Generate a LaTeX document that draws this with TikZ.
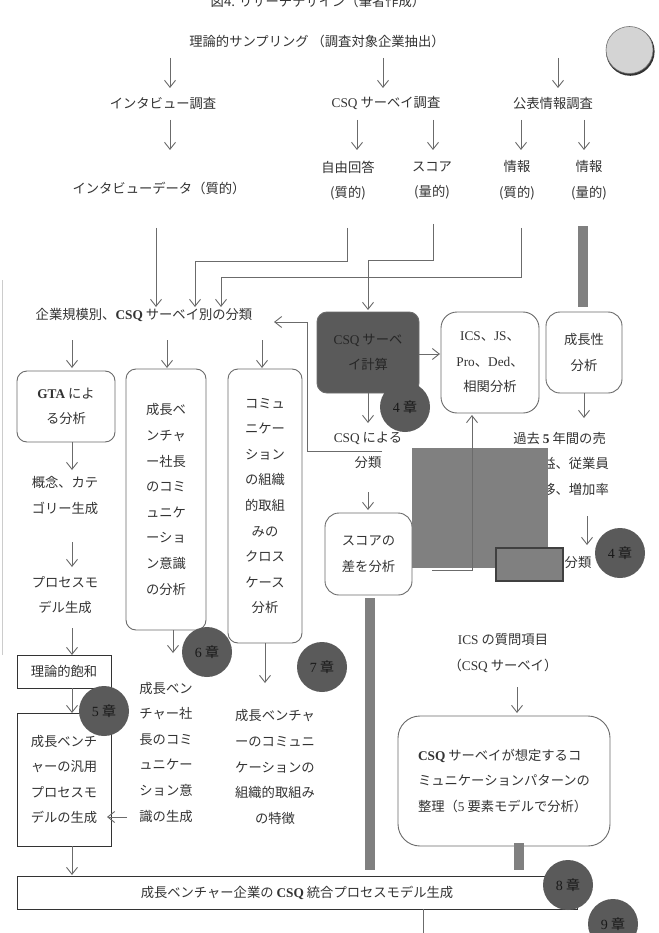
\documentclass[tikz,border=0pt]{standalone}
\usepackage{fontspec}
\setmainfont{Noto Sans CJK JP}
\newfontfamily\enfam{Liberation Serif}
\newcommand\enr[1]{{\enfam #1}}
\newcommand\enbf[1]{{\enfam\bfseries #1}}
\usetikzlibrary{arrows.meta,calc}
\definecolor{tc}{HTML}{333333}
\definecolor{lc}{HTML}{6B6B6B}
\definecolor{dk}{HTML}{5A5A5A}
\definecolor{gb}{HTML}{808080}
\begin{document}
\begin{tikzpicture}[x=1pt,y=-1pt,
  txt/.style={font=\fontsize{13.3}{25.6}\selectfont, text=tc, inner sep=0pt, align=center},
  arr/.style={draw=lc, line width=0.9pt, -{Straight Barb[length=7pt,width=11pt]}},
  ln/.style={draw=lc, line width=0.9pt},
  rbox/.style={draw=lc, line width=0.9pt, rounded corners=10pt, fill=white, txt},
  sbox/.style={draw=tc, line width=0.9pt, fill=white, txt},
  chap/.style={circle, fill=dk, minimum size=50pt, inner sep=0pt, text=black!90, font=\fontsize{14}{16}\selectfont},
  bar/.style={fill=gb, draw=none}]
\useasboundingbox (0,0) rectangle (658,933);
\fill[white] (0,0) rectangle (658,933);

% faint left line
\draw[black!20, line width=0.8pt] (2,280) -- (2,655);

% title (cut off)
\node[txt] (title) at (318,1) {図4. リサーチデザイン（筆者作成）};

% top circle
\fill[black!80] (630.3,51.5) circle (24.3pt);
\node[circle, fill=black!17, draw=black!55, line width=0.6pt, minimum size=47pt, inner sep=0pt] (logo) at (629.5,50) {};

\node[txt] (samp) at (317,41) {理論的サンプリング （調査対象企業抽出）};
\node[txt] (intv) at (163,103) {インタビュー調査};
\node[txt] (csqs) at (386,103) {\enr{CSQ} サーベイ調査};
\node[txt] (pub) at (553,103) {公表情報調査};

\draw[arr] (170,58) -- (170,88);
\draw[arr] (383,58) -- (383,88);
\draw[arr] (558,58) -- (558,88);

\node[txt] (idata) at (159,188) {インタビューデータ（質的）};
\node[txt] (free) at (348,180.5) {自由回答\\(質的)};
\node[txt] (score) at (432,180.5) {スコア\\(量的)};
\node[txt] (infq) at (517,180.5) {情報\\(質的)};
\node[txt] (infn) at (589,180.5) {情報\\(量的)};

\draw[arr] (170,120) -- (170,150);
\draw[arr] (357,120) -- (357,150);
\draw[arr] (433,120) -- (433,150);
\draw[arr] (521,120) -- (521,150);
\draw[arr] (584,120) -- (584,150);

% classification row
\node[txt] (cls) at (144,315) {企業規模別、\enbf{CSQ} サーベイ別の分類};
\draw[arr] (156,228) -- (156,307);
\draw[arr] (347,228) |- (195,261) -- (195,307);
\draw[arr] (521,228) |- (221,277) -- (221,307);
\draw[arr] (433,224) |- (368,260) -- (368,310);
\fill[gb] (578,226) rectangle (588,307);

\draw[arr] (72,340) -- (72,368);
\draw[arr] (167,340) -- (167,368);
\draw[arr] (262,340) -- (262,368);

% left column
\node[rbox, minimum width=98pt, minimum height=71pt] (gta) at (66,406.5) {\enbf{GTA} によ\\る分析};
\node[rbox, minimum width=80pt, minimum height=261pt] (b2) at (166,499.5) {成長ベ\\ンチャ\\ー社長\\のコミ\\ュニケ\\ーショ\\ン意識\\の分析};
\node[rbox, minimum width=74pt, minimum height=274pt] (b3) at (265,506) {コミュ\\ニケー\\ション\\の組織\\的取組\\みの\\クロス\\ケース\\分析};

\draw[arr] (72,442) -- (72,470);
\node[txt] (concept) at (65,495.5) {概念、カテ\\ゴリー生成};
\draw[arr] (72,542) -- (72,567);
\node[txt] (pmodel) at (65,595) {プロセスモ\\デル生成};
\draw[arr] (72,628) -- (72,655);
\node[sbox, minimum width=94pt, minimum height=33pt] (riron) at (64,671.5) {理論的飽和};
\draw[arr] (72,688) -- (72,713);
\node[sbox, minimum width=94pt, minimum height=133pt] (hanyo) at (64,779.5) {成長ベンチ\\ャーの汎用\\プロセスモ\\デルの生成};
\node[chap] (c5) at (104,711) {\enr{5} 章};

\draw[arr] (173,630) -- (173,653);
\node[chap] (c6) at (207,652) {\enr{6} 章};
\draw[arr] (265,643) -- (265,683);
\node[chap] (c7) at (322,667) {\enr{7} 章};
\node[txt] (shacho) at (166,752) {成長ベン\\チャー社\\長のコミ\\ュニケー\\ション意\\識の生成};
\draw[arr] (127,817) -- (107,817);
\node[txt] (tokucho) at (275,767) {成長ベンチャ\\ーのコミュニ\\ケーションの\\組織的取組み\\の特徴};

\draw[arr] (72,846) -- (72,875);
\node[sbox, minimum width=560pt, minimum height=33pt] (final) at (297,892.5) {成長ベンチャー企業の \enbf{CSQ} 統合プロセスモデル生成};
\draw[arr] (423,909) -- (423,945);
\node[chap] (c8) at (568,885) {\enr{8} 章};
\node[chap] (c9) at (613,924) {\enr{9} 章};

% right part
\node[rbox, fill=dk, text=black!85, minimum width=102pt, minimum height=81pt] (calc) at (368,352.5) {\enr{CSQ} サーベ\\イ計算};
\node[chap] (c4a) at (405,407) {\enr{4} 章};
\draw[arr] (419,354) -- (440,354);
\node[rbox, rounded corners=16pt, minimum width=98pt, minimum height=101pt] (ics) at (490,362.5) {\enr{ICS}、\enr{JS}、\\\enr{Pro}、\enr{Ded}、\\相関分析};
\node[rbox, rounded corners=14pt, minimum width=76pt, minimum height=81pt] (seicho) at (584,352.5) {成長性\\分析};
\draw[arr] (584,393) -- (584,418);
\node[txt, anchor=east] (kako1) at (606,438) {過去 \enbf{5} 年間の売};
\node[txt, anchor=east] (kako2) at (609,463) {益、従業員};
\node[txt, anchor=east] (kako3) at (609,489) {移、増加率};
\draw[arr] (587,516) -- (587,545);
\node[txt] (bunrui) at (578,563) {分類};
\node[chap] (c4b) at (620,553) {\enr{4} 章};

\node[txt] (csqby) at (368,450.5) {\enr{CSQ} による\\分類};
\draw[arr] (368,393) -- (368,423);
\draw[arr] (382,451) -- (307,451) -- (307,322) -- (274,322);
\draw[arr] (368,492) -- (368,510);
\node[rbox, rounded corners=14pt, minimum width=87pt, minimum height=82pt] (sdiff) at (368.5,554) {スコアの\\差を分析};
\fill[gb] (365,598) rectangle (375,870);

\fill[gb] (412,448) rectangle (548,568);
\draw[arr] (432,570) -| (472,415);
\draw[fill=gb, draw=black!75, line width=1.2pt] (496,548) rectangle (563,581);

\node[txt] (icsq) at (503,653) {\enr{ICS} の質問項目\\（\enr{CSQ} サーベイ）};
\draw[arr] (517,687) -- (517,713);
\node[rbox, rounded corners=22pt, minimum width=212pt, minimum height=130pt, align=left] (csq5) at (504,781) {\enbf{CSQ} サーベイが想定するコ\\ミュニケーションパターンの\\整理（\enr{5} 要素モデルで分析）};
\fill[gb] (514,843) rectangle (524,870);
\end{tikzpicture}
\end{document}
